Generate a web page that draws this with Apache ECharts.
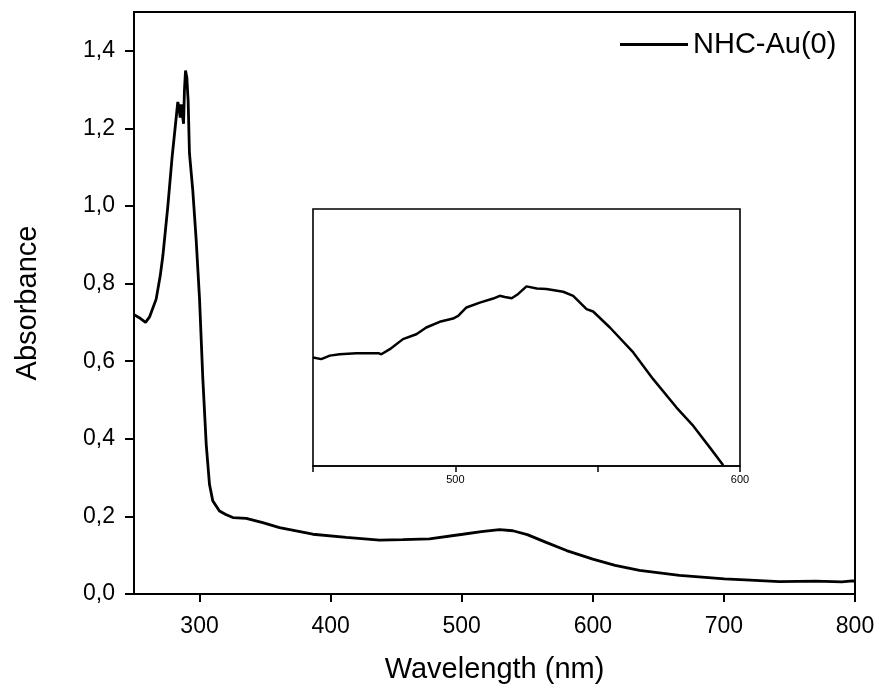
<!DOCTYPE html>
<html>
<head>
<meta charset="utf-8">
<script src="https://cdn.jsdelivr.net/npm/echarts@6/dist/echarts.min.js"></script>
<style>
  html, body { margin: 0; padding: 0; background: #fff; }
  #chart { width: 882px; height: 689px; }
</style>
</head>
<body>
<div id="chart"></div>
<script>
// UV-Vis absorption spectrum of NHC-Au(0)
const seriesName = 'NHC-Au(0)';

// Full spectrum: wavelength (nm) and absorbance
const wavelength = [
  250, 254, 258.8, 262, 266.9, 270, 272, 275.8, 279.1, 281.7, 283.4, 284.3,
  285.2, 286, 286.8, 287.8, 288.5, 289.3, 290.3, 290.8, 291.3, 292.3, 294.8,
  297.4, 300, 302.5, 305.1, 307.6, 310.1, 315.2, 320, 325.4, 335.6, 348.2,
  361, 386.4, 411.9, 437.3, 455, 475.4, 500.8, 515, 528.8, 539, 550, 564.4,
  580, 600, 617, 635.6, 666.1, 700.4, 720, 742.4, 770, 790, 798, 800
];
const absorbance = [
  0.720, 0.712, 0.700, 0.715, 0.760, 0.820, 0.871, 0.999, 1.127, 1.212, 1.268, 1.255,
  1.228, 1.262, 1.259, 1.212, 1.300, 1.349, 1.332, 1.300, 1.272, 1.136, 1.042,
  0.914, 0.760, 0.555, 0.385, 0.282, 0.240, 0.214, 0.205, 0.197, 0.195, 0.184,
  0.171, 0.154, 0.146, 0.139, 0.140, 0.142, 0.154, 0.161, 0.166, 0.163, 0.153, 0.133,
  0.112, 0.090, 0.074, 0.061, 0.048, 0.039, 0.036, 0.032, 0.033, 0.031, 0.034, 0.033
];

// Expanded view of the plasmon band (450–600 nm)
const insetWavelength = [
  450, 452.9, 455.9, 459.4, 465.2, 472.9, 474, 477, 481.6, 486.3, 489.8, 494.5,
  499.2, 501, 503.9, 508.6, 513.3, 515.6, 517.4, 519.8, 522.1, 525, 528.6, 532,
  537.9, 541.4, 546.1, 548.4, 554.3, 562.5, 569.5, 577.7, 583.6, 589.5, 594.1
];
const insetAbsorbance = [
  0.1401, 0.1395, 0.1408, 0.1413, 0.1417, 0.1417, 0.1413, 0.1432, 0.1469, 0.1487, 0.1512, 0.1533,
  0.1545, 0.1555, 0.1586, 0.1604, 0.1619, 0.1629, 0.1625, 0.1620, 0.1636, 0.1664, 0.1656, 0.1654,
  0.1644, 0.1629, 0.1580, 0.1571, 0.1512, 0.1420, 0.1321, 0.1216, 0.1148, 0.1067, 0.1003
];

// Tick positions
const mainXTicks = [300, 400, 500, 600, 700, 800];
const mainYTicks = [0, 0.2, 0.4, 0.6, 0.8, 1.0, 1.2, 1.4];
const insetXLabels = [500, 600];

const zip = (xs, ys) => xs.map((x, i) => [x, ys[i]]);
const FONT = 'Liberation Sans, Arial, sans-serif';
const comma = v => v.toFixed(1).replace('.', ',');

const chart = echarts.init(document.getElementById('chart'), null, { renderer: 'canvas' });

chart.setOption({
  backgroundColor: '#ffffff',
  animation: false,
  legend: {
    data: [seriesName],
    left: 615,
    top: 25,
    icon: 'rect',
    itemWidth: 68,
    itemHeight: 3,
    itemGap: 10,
    textStyle: { fontFamily: FONT, fontSize: 29, color: '#000' }
  },
  grid: [
    { left: 134, top: 12, width: 721, height: 585, show: true,
      borderColor: '#000', borderWidth: 2, backgroundColor: 'transparent' },
    { left: 313, top: 209, width: 427, height: 257, show: true,
      borderColor: '#000', borderWidth: 1.6, backgroundColor: '#fff' }
  ],
  xAxis: [
    {
      gridIndex: 0, type: 'value', min: 250, max: 800,
      name: 'Wavelength (nm)', nameLocation: 'middle', nameGap: 61,
      nameTextStyle: { fontFamily: FONT, fontSize: 29, color: '#000' },
      axisLine: { show: true, lineStyle: { color: '#000', width: 2 } },
      axisTick: { show: true, inside: false, length: 8, customValues: mainXTicks,
        lineStyle: { color: '#000', width: 2 } },
      axisLabel: { customValues: mainXTicks, margin: 21, fontFamily: FONT, fontSize: 23, color: '#000' },
      splitLine: { show: false }
    },
    {
      gridIndex: 1, type: 'value', min: 450, max: 600, interval: 50,
      axisLine: { show: true, lineStyle: { color: '#000', width: 1.6 } },
      axisTick: { show: true, inside: false, length: 6, lineStyle: { color: '#000', width: 1.5 } },
      axisLabel: {
        margin: 8, fontFamily: FONT, fontSize: 11, color: '#000',
        formatter: v => insetXLabels.includes(v) ? String(v) : ''
      },
      splitLine: { show: false }
    }
  ],
  yAxis: [
    {
      gridIndex: 0, type: 'value', min: 0, max: 1.5,
      name: 'Absorbance', nameLocation: 'middle', nameGap: 92,
      nameTextStyle: { fontFamily: FONT, fontSize: 29, color: '#000' },
      axisLine: { show: true, lineStyle: { color: '#000', width: 2 } },
      axisTick: { show: true, inside: false, length: 9, customValues: mainYTicks,
        lineStyle: { color: '#000', width: 2 } },
      axisLabel: { customValues: mainYTicks, margin: 19, fontFamily: FONT, fontSize: 23, color: '#000',
        formatter: comma },
      splitLine: { show: false }
    },
    {
      gridIndex: 1, type: 'value', min: 0.10, max: 0.195,
      axisLine: { show: false }, axisTick: { show: false },
      axisLabel: { show: false }, splitLine: { show: false }
    }
  ],
  series: [
    {
      name: seriesName, type: 'line', xAxisIndex: 0, yAxisIndex: 0,
      data: zip(wavelength, absorbance),
      showSymbol: false, symbol: 'none', clip: true,
      lineStyle: { color: '#000', width: 2.8 },
      itemStyle: { color: '#000' }
    },
    {
      name: 'inset', type: 'line', xAxisIndex: 1, yAxisIndex: 1,
      data: zip(insetWavelength, insetAbsorbance),
      showSymbol: false, symbol: 'none', clip: true,
      lineStyle: { color: '#000', width: 2.5 },
      itemStyle: { color: '#000' }
    }
  ]
});
</script>
</body>
</html>
